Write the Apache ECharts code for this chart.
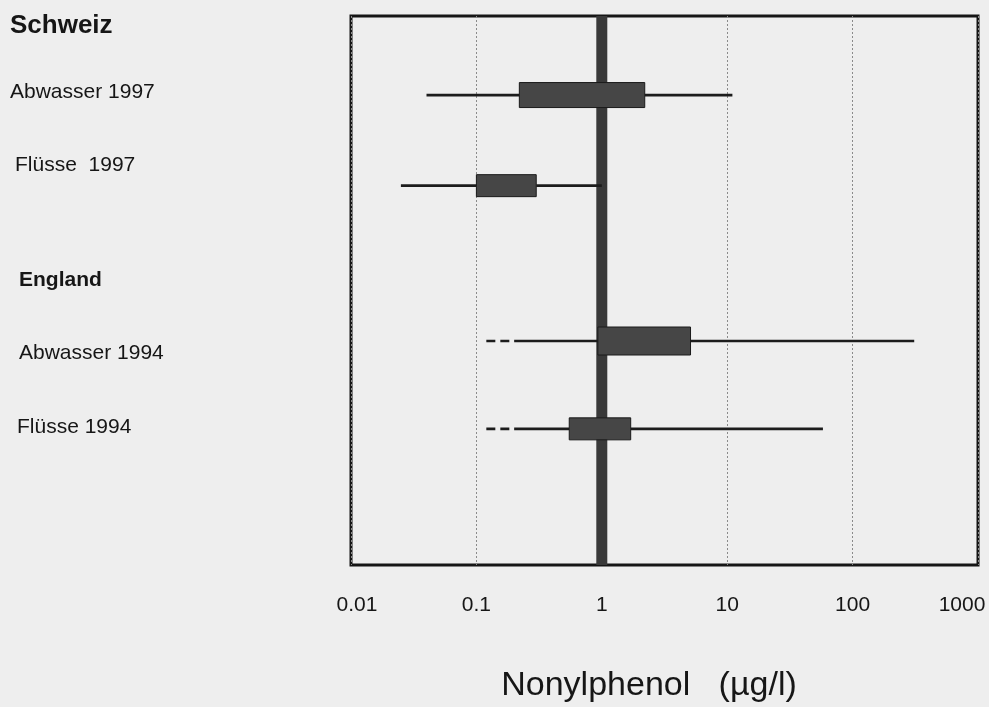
<!DOCTYPE html>
<html>
<head>
<meta charset="utf-8">
<title>Nonylphenol</title>
<script src="https://cdn.jsdelivr.net/npm/echarts@6/dist/echarts.min.js"></script>
<style>
  html, body { margin: 0; padding: 0; background: #eeeeee; }
  #chart { width: 989px; height: 707px; }
</style>
</head>
<body>
<div id="chart"></div>
<script>
// Messreihen (µg/l), von oben nach unten
const rowLabels = ['Abwasser 1997', 'Flüsse  1997', 'Abwasser 1994', 'Flüsse 1994'];
const groupLabels = ['Schweiz', 'England'];
const rowPos = [1.44, 3.09, 5.92, 7.52];          // Lage auf der (versteckten) y-Achse 0..10
const whiskerLow = [0.04, 0.025, 0.2, 0.2];
const boxLow = [0.22, 0.1, 0.93, 0.55];
const boxHigh = [2.2, 0.3, 5.1, 1.7];
const whiskerHigh = [11, 1, 310, 58];
const belowLimit = [null, null, 0.12, 0.12];       // gestrichelter Teil unter der Bestimmungsgrenze
const refValue = [1];
const tickLabels = ['0.01', '0.1', '1', '10', '100', '1000'];

// Darstellung
const boxHeights = [25, 22, 28, 22];
const rowLabelPos = [[10, 92.5], [15, 165], [19, 353], [17, 427]];
const groupLabelPos = [[10, 26], [19, 280]];
const groupFontSize = [26, 21];
const font = 'Liberation Sans, Arial, Helvetica, sans-serif';
const ink = '#161616';

const chart = echarts.init(document.getElementById('chart'));

const boxData = rowLabels.map((name, i) => ({
    name: name,
    value: [whiskerLow[i], boxLow[i], boxHigh[i], whiskerHigh[i], rowPos[i]]
}));

const graphics = [];
groupLabels.forEach((t, i) => {
    graphics.push({
        type: 'text', x: groupLabelPos[i][0], y: groupLabelPos[i][1],
        style: { text: t, fontSize: groupFontSize[i], fontWeight: 'bold', fontFamily: font, fill: ink, verticalAlign: 'middle' }
    });
});
rowLabels.forEach((t, i) => {
    graphics.push({
        type: 'text', x: rowLabelPos[i][0], y: rowLabelPos[i][1],
        style: { text: t, fontSize: 21, fontFamily: font, fill: ink, verticalAlign: 'middle' }
    });
});

const option = {
    backgroundColor: '#eeeeee',
    animation: false,
    grid: {
        left: 351, right: 11, top: 16, bottom: 142,
        show: true, borderColor: '#151515', borderWidth: 3,
        containLabel: false, outerBoundsMode: 'none'
    },
    xAxis: {
        type: 'log', logBase: 10, min: 0.01, max: 1000,
        axisLine: { show: false },
        axisTick: { show: false },
        splitLine: { show: true, lineStyle: { color: '#8a8a8a', width: 1, type: [2, 2] } },
        axisLabel: {
            margin: 30, fontSize: 21, fontFamily: font, color: ink,
            formatter: v => {
                const k = Math.round(Math.log10(v)) + 2;
                const s = tickLabels[k];
                if (k === 0) return '{lo|' + s + '}';
                if (k === tickLabels.length - 1) return '{hi|' + s + '}';
                return s;
            },
            rich: {
                lo: { fontSize: 21, fontFamily: font, color: ink, padding: [0, 0, 0, 12] },
                hi: { fontSize: 21, fontFamily: font, color: ink, padding: [0, 32, 0, 0] }
            }
        },
        name: 'Nonylphenol   (µg/l)',
        nameLocation: 'middle',
        nameGap: 104,
        nameTextStyle: { fontSize: 34, fontFamily: font, color: ink, padding: [0, 31, 0, 0] }
    },
    yAxis: { type: 'value', min: 0, max: 10, inverse: true, show: false },
    graphic: graphics,
    series: [
        {
            name: 'ref',
            type: 'line',
            data: [[refValue[0], 0], [refValue[0], 10]],
            symbol: 'none',
            z: 1,
            lineStyle: { color: '#393939', width: 11 },
            silent: true
        },
        {
            name: 'Messbereich',
            type: 'custom',
            z: 2,
            data: boxData,
            encode: { x: [0, 1, 2, 3], y: 4 },
            renderItem: (params, api) => {
                const i = params.dataIndex;
                const yv = api.value(4);
                const wl = api.coord([api.value(0), yv]);
                const bl = api.coord([api.value(1), yv]);
                const bh = api.coord([api.value(2), yv]);
                const wh = api.coord([api.value(3), yv]);
                const y = wl[1];
                const h = boxHeights[i];
                const lineStyle = { stroke: '#1c1c1c', lineWidth: 2.7 };
                const children = [];
                if (belowLimit[i] != null) {
                    const dl = api.coord([belowLimit[i], yv]);
                    children.push({
                        type: 'line',
                        shape: { x1: dl[0], y1: y, x2: wl[0], y2: y },
                        style: { stroke: '#1c1c1c', lineWidth: 2.7, lineDash: [9, 5] }
                    });
                }
                children.push({ type: 'line', shape: { x1: wl[0], y1: y, x2: bl[0], y2: y }, style: lineStyle });
                children.push({ type: 'line', shape: { x1: bh[0], y1: y, x2: wh[0], y2: y }, style: lineStyle });
                children.push({
                    type: 'rect',
                    shape: { x: bl[0], y: y - h / 2, width: bh[0] - bl[0], height: h },
                    style: { fill: '#464646', stroke: '#1a1a1a', lineWidth: 1 }
                });
                return { type: 'group', children: children };
            }
        }
    ]
};

chart.setOption(option);
window.addEventListener('resize', () => chart.resize());
</script>
</body>
</html>
